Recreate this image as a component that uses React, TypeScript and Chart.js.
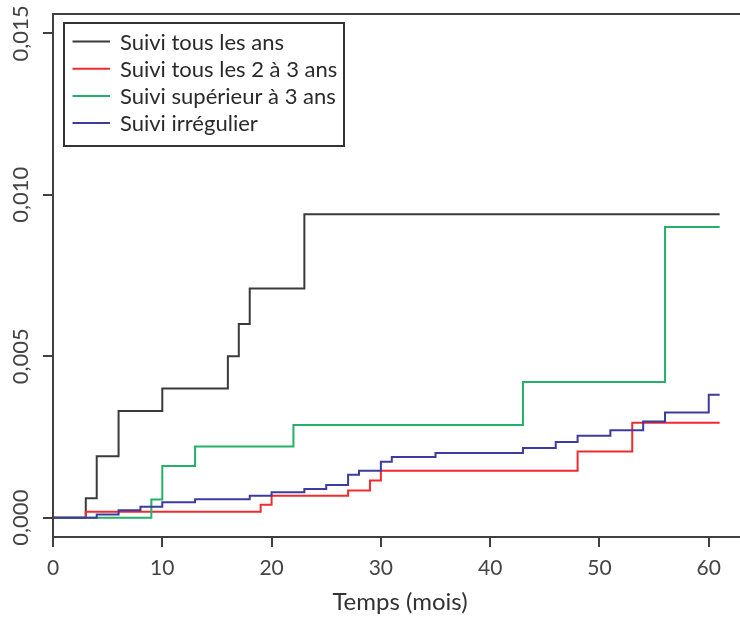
import React, { useEffect, useRef } from "react";
import { Chart, registerables } from "chart.js";

Chart.register(...registerables);

const FONT = "Lato, 'Open Sans', 'DejaVu Sans', sans-serif";

// Series labels and colours
const seriesLabels = [
  "Suivi tous les ans",
  "Suivi tous les 2 à 3 ans",
  "Suivi supérieur à 3 ans",
  "Suivi irrégulier",
];
const seriesColors = ["#3a3a3a", "#ef2b30", "#25b068", "#3b3ba0"];

// Step curves: event times (months) and cumulative values after each event
const annualTimes = [0, 3, 4, 6, 10, 16, 17, 18, 23, 61];
const annualValues = [0, 0.0006, 0.0019, 0.0033, 0.004, 0.005, 0.006, 0.0071, 0.0094, 0.0094];

const twoThreeTimes = [0, 3, 19, 20, 27, 29, 30, 48, 53, 61];
const twoThreeValues = [0, 0.00018, 0.0004, 0.00068, 0.00084, 0.00115, 0.00145, 0.00205, 0.00294, 0.00294];

const overThreeTimes = [0, 9, 10, 13, 22, 43, 56, 61];
const overThreeValues = [0, 0.00056, 0.0016, 0.0022, 0.00287, 0.0042, 0.009, 0.009];

const irregularTimes = [0, 4, 6, 8, 10, 13, 18, 20, 23, 25, 27, 28, 30, 31, 35, 43, 46, 48, 51, 54, 56, 60, 61];
const irregularValues = [
  0, 0.0001, 0.00023, 0.00034, 0.00048, 0.00057, 0.00068, 0.00079, 0.00089, 0.00101, 0.00133, 0.00145,
  0.00173, 0.00188, 0.002, 0.00216, 0.00234, 0.00254, 0.00271, 0.00298, 0.00326, 0.00381, 0.00381,
];

// Axes
const xTicks = [0, 10, 20, 30, 40, 50, 60];
const yTicks = [0, 0.005, 0.01, 0.015];
const yTickLabels = ["0,000", "0,005", "0,010", "0,015"];
const xTitle = "Temps (mois)";
const xMin = 0;
const xMax = 63.5;
const yMin = -0.0006;
const yMax = 0.0156;

const seriesTimes = [annualTimes, twoThreeTimes, overThreeTimes, irregularTimes];
const seriesValues = [annualValues, twoThreeValues, overThreeValues, irregularValues];

const framePlugin = {
  id: "frameAndLegend",
  afterDraw(chart: any) {
    const { ctx, chartArea: a, scales } = chart;
    ctx.save();
    // plot box
    ctx.strokeStyle = "#404040";
    ctx.lineWidth = 2;
    ctx.strokeRect(a.left, a.top, a.right - a.left, a.bottom - a.top);

    // rotated y tick labels
    ctx.fillStyle = "#444";
    ctx.font = `22px ${FONT}`;
    ctx.textAlign = "center";
    ctx.textBaseline = "middle";
    yTicks.forEach((v, i) => {
      const y = scales.y.getPixelForValue(v);
      ctx.save();
      ctx.translate(a.left - 32, y);
      ctx.rotate(-Math.PI / 2);
      ctx.fillText(yTickLabels[i], 0, 0);
      ctx.restore();
    });

    // legend box
    const bx = a.left + 11;
    const by = a.top + 9;
    ctx.strokeStyle = "#333";
    ctx.lineWidth = 2;
    ctx.strokeRect(bx, by, 280, 123);
    ctx.font = `22px ${FONT}`;
    ctx.textAlign = "left";
    ctx.textBaseline = "middle";
    chart.data.datasets.forEach((ds: any, i: number) => {
      const ly = by + 18.5 + i * 27.2;
      ctx.strokeStyle = ds.borderColor;
      ctx.lineWidth = 2;
      ctx.beginPath();
      ctx.moveTo(bx + 8.5, ly);
      ctx.lineTo(bx + 46, ly);
      ctx.stroke();
      ctx.fillStyle = "#2a2a2a";
      ctx.fillText(ds.label, bx + 56, ly + 1);
    });
    ctx.restore();
  },
};

export default function App() {
  const ref = useRef<HTMLCanvasElement | null>(null);

  useEffect(() => {
    if (!ref.current) return;
    Chart.defaults.font.family = FONT;
    const datasets = seriesLabels.map((label, i) => ({
      label,
      data: seriesTimes[i].map((t, j) => ({ x: t, y: seriesValues[i][j] })),
      borderColor: seriesColors[i],
      backgroundColor: seriesColors[i],
      borderWidth: 2,
      pointRadius: 0,
      stepped: "before" as const,
      fill: false,
      order: seriesLabels.length - 1 - i,
    }));
    const chart = new Chart(ref.current, {
      type: "line",
      data: { datasets },
      options: {
        animation: false,
        responsive: false,
        devicePixelRatio: 1,
        layout: { padding: { top: 14, left: 0, right: 1, bottom: 0 } },
        plugins: { legend: { display: false }, tooltip: { enabled: false } },
        scales: {
          x: {
            type: "linear",
            min: xMin,
            max: xMax,
            afterBuildTicks: (s: any) => {
              s.ticks = xTicks.map((v) => ({ value: v }));
            },
            afterFit: (s: any) => {
              s.height = 81;
            },
            border: { display: false },
            grid: {
              drawOnChartArea: false,
              drawTicks: true,
              tickLength: 10,
              color: "#404040",
              lineWidth: 2,
            },
            ticks: {
              autoSkip: false,
              maxRotation: 0,
              padding: 9,
              color: "#444",
              font: { size: 21, family: FONT },
              callback: (v: any) => String(v),
            },
            title: {
              display: true,
              text: xTitle,
              color: "#333",
              font: { size: 24, family: FONT },
              padding: { top: 0, bottom: 1 },
            },
          },
          y: {
            type: "linear",
            min: yMin,
            max: yMax,
            afterBuildTicks: (s: any) => {
              s.ticks = yTicks.map((v) => ({ value: v }));
            },
            afterFit: (s: any) => {
              s.width = 53;
            },
            border: { display: false },
            grid: {
              drawOnChartArea: false,
              drawTicks: true,
              tickLength: 10,
              color: "#404040",
              lineWidth: 2,
            },
            ticks: { display: false },
          },
        },
      },
      plugins: [framePlugin],
    });
    return () => chart.destroy();
  }, []);

  return (
    <div
      style={{
        position: "fixed",
        left: 0,
        top: 0,
        width: 740,
        height: 618,
        overflow: "hidden",
        background: "#fff",
      }}
    >
      <canvas ref={ref} width={748} height={618} style={{ display: "block", width: 748, height: 618 }} />
    </div>
  );
}
